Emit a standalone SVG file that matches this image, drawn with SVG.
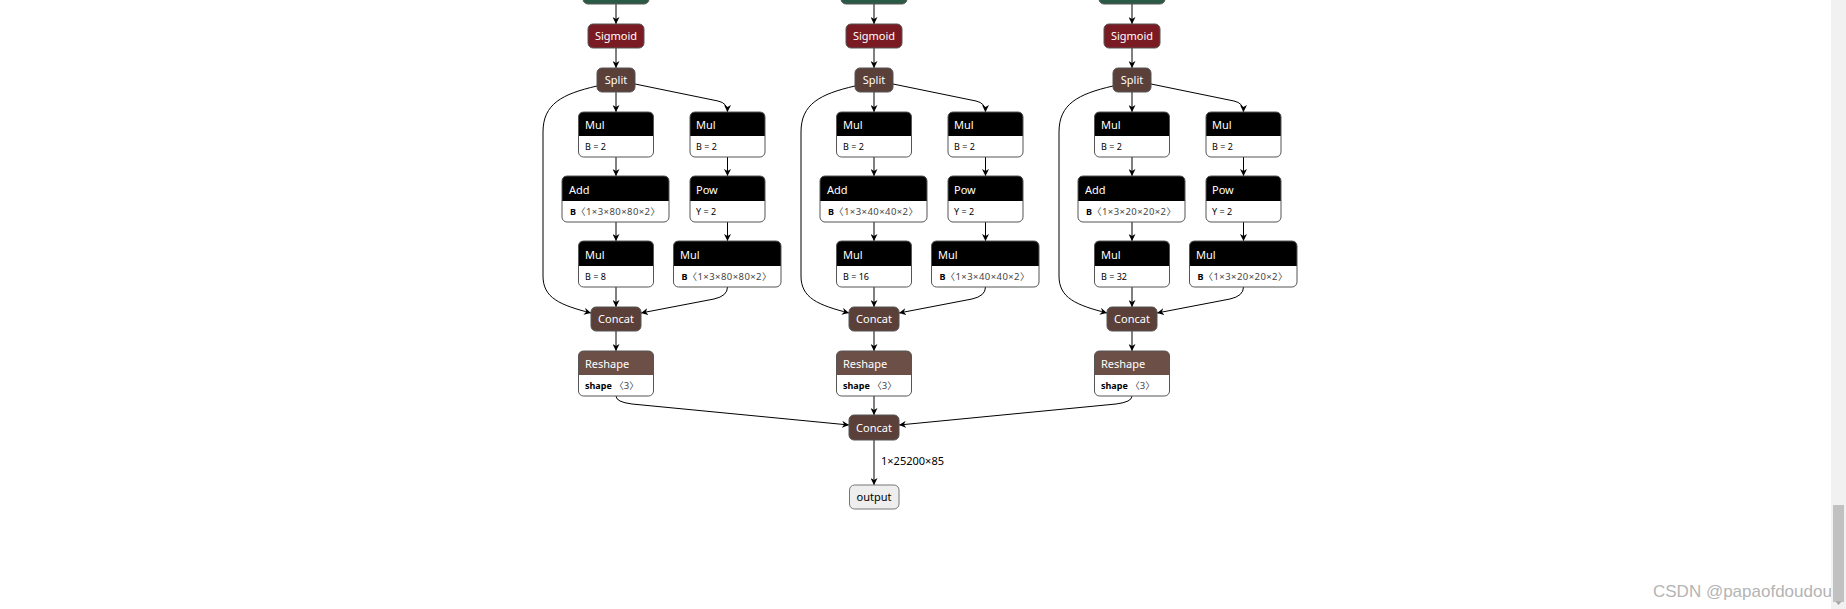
<svg xmlns="http://www.w3.org/2000/svg" width="1846" height="609" viewBox="0 0 1846 609">
<style>
.t{font-family:"Noto Sans","Noto Sans CJK SC",sans-serif}
.title{font-size:11px;fill:#fff}
.ctitle{font-size:11px;fill:#fff;text-anchor:middle}
.attr{font-size:9px;fill:#000}
.val{fill:#444;font-size:9.5px}
.b{font-weight:bold}
.box{fill:#fff}
.ol{fill:none;stroke:#555;stroke-width:1}
.hdr{fill:#000}
.sig{fill:#7a1a22;stroke:#555}
.ten{fill:#5b4039;stroke:#555}
.shp{fill:#6c4f47}
.tr{fill:#2a5a45;stroke:#555}
.edge{fill:none;stroke:#000;stroke-width:1;marker-end:url(#arr)}
</style>
<defs>
<marker id="arr" viewBox="0 0 10 10" refX="10" refY="5" markerWidth="7" markerHeight="7" markerUnits="userSpaceOnUse" orient="auto"><path d="M0,0 L10,5 L0,10 L3,5 z" fill="#000"/></marker>
</defs>
<rect width="1846" height="609" fill="#fff"/>

<g id="edges">
 <g id="edges_c1">
  <path class="edge" d="M616,4 V24"/>
  <path class="edge" d="M616,48 V68"/>
  <path class="edge" d="M616,92 V112"/>
  <path class="edge" d="M635,84 L718,101 Q727.5,103 727.5,112"/>
  <path class="edge" d="M597,86 C562,94 543,104 543,132 V276 C543,298 560,305 591,313"/>
  <path class="edge" d="M616,157 V176"/>
  <path class="edge" d="M727.5,157 V176"/>
  <path class="edge" d="M616,222 V241"/>
  <path class="edge" d="M727.5,222 V241"/>
  <path class="edge" d="M616,287 V307"/>
  <path class="edge" d="M727.5,287 Q727.5,296 714,299 L641,313"/>
  <path class="edge" d="M616,331 V351"/>
 </g>
 <g id="edges_c2" transform="translate(258,0)">
  <path class="edge" d="M616,4 V24"/>
  <path class="edge" d="M616,48 V68"/>
  <path class="edge" d="M616,92 V112"/>
  <path class="edge" d="M635,84 L718,101 Q727.5,103 727.5,112"/>
  <path class="edge" d="M597,86 C562,94 543,104 543,132 V276 C543,298 560,305 591,313"/>
  <path class="edge" d="M616,157 V176"/>
  <path class="edge" d="M727.5,157 V176"/>
  <path class="edge" d="M616,222 V241"/>
  <path class="edge" d="M727.5,222 V241"/>
  <path class="edge" d="M616,287 V307"/>
  <path class="edge" d="M727.5,287 Q727.5,296 714,299 L641,313"/>
  <path class="edge" d="M616,331 V351"/>
 </g>
 <g id="edges_c3" transform="translate(516,0)">
  <path class="edge" d="M616,4 V24"/>
  <path class="edge" d="M616,48 V68"/>
  <path class="edge" d="M616,92 V112"/>
  <path class="edge" d="M635,84 L718,101 Q727.5,103 727.5,112"/>
  <path class="edge" d="M597,86 C562,94 543,104 543,132 V276 C543,298 560,305 591,313"/>
  <path class="edge" d="M616,157 V176"/>
  <path class="edge" d="M727.5,157 V176"/>
  <path class="edge" d="M616,222 V241"/>
  <path class="edge" d="M727.5,222 V241"/>
  <path class="edge" d="M616,287 V307"/>
  <path class="edge" d="M727.5,287 Q727.5,296 714,299 L641,313"/>
  <path class="edge" d="M616,331 V351"/>
 </g>
 <path class="edge" d="M616,396 Q616,402 632,404 L849,425"/>
 <path class="edge" d="M874,396 V415"/>
 <path class="edge" d="M1132,396 Q1132,402 1116,404 L899,425"/>
 <path class="edge" d="M874,440 V485"/>
 <text class="t" x="881" y="465" font-size="11" fill="#000" textLength="63" lengthAdjust="spacingAndGlyphs">1×25200×85</text>
</g>

<!-- Column 1 -->
<g id="c1">
 <g id="c1_transpose"><rect class="tr" x="583" y="-20" width="66" height="24" rx="5"/></g>
 <g id="c1_sigmoid"><rect class="sig" x="588" y="24" width="56" height="24" rx="5"/><text class="t ctitle" x="616" y="40">Sigmoid</text></g>
 <g id="c1_split"><rect class="ten" x="597" y="68" width="38" height="24" rx="5"/><text class="t ctitle" x="616" y="84">Split</text></g>
 <g id="c1_mul_a"><rect class="box" x="578.5" y="112" width="75" height="45" rx="5"/><path class="hdr" d="M578.5,136 V117 Q578.5,112 583.5,112 H648.5 Q653.5,112 653.5,117 V136 Z"/><rect class="ol" x="578.5" y="112" width="75" height="45" rx="5"/><text class="t title" x="585" y="129">Mul</text><text class="t attr" x="585" y="150">B = 2</text></g>
 <g id="c1_mul_b"><rect class="box" x="690" y="112" width="75" height="45" rx="5"/><path class="hdr" d="M690,136 V117 Q690,112 695,112 H760 Q765,112 765,117 V136 Z"/><rect class="ol" x="690" y="112" width="75" height="45" rx="5"/><text class="t title" x="696" y="129">Mul</text><text class="t attr" x="696" y="150">B = 2</text></g>
 <g id="c1_add"><rect class="box" x="562" y="176" width="107" height="46" rx="5"/><path class="hdr" d="M562,201 V181 Q562,176 567,176 H664 Q669,176 669,181 V201 Z"/><rect class="ol" x="562" y="176" width="107" height="46" rx="5"/><text class="t title" x="569" y="194">Add</text><text class="t attr" x="570" y="215"><tspan class="b">B</tspan></text><text class="t attr val" x="576" y="215" textLength="84" lengthAdjust="spacing">〈1×3×80×80×2〉</text></g>
 <g id="c1_pow"><rect class="box" x="690" y="176" width="75" height="46" rx="5"/><path class="hdr" d="M690,201 V181 Q690,176 695,176 H760 Q765,176 765,181 V201 Z"/><rect class="ol" x="690" y="176" width="75" height="46" rx="5"/><text class="t title" x="696" y="194">Pow</text><text class="t attr" x="696" y="215">Y = 2</text></g>
 <g id="c1_mul_c"><rect class="box" x="578.5" y="241" width="75" height="46" rx="5"/><path class="hdr" d="M578.5,266 V246 Q578.5,241 583.5,241 H648.5 Q653.5,241 653.5,246 V266 Z"/><rect class="ol" x="578.5" y="241" width="75" height="46" rx="5"/><text class="t title" x="585" y="259">Mul</text><text class="t attr" x="585" y="280">B = 8</text></g>
 <g id="c1_mul_d"><rect class="box" x="673.5" y="241" width="107.5" height="46" rx="5"/><path class="hdr" d="M673.5,266 V246 Q673.5,241 678.5,241 H776 Q781,241 781,246 V266 Z"/><rect class="ol" x="673.5" y="241" width="107.5" height="46" rx="5"/><text class="t title" x="680" y="259">Mul</text><text class="t attr" x="681.5" y="280"><tspan class="b">B</tspan></text><text class="t attr val" x="687.5" y="280" textLength="84" lengthAdjust="spacing">〈1×3×80×80×2〉</text></g>
 <g id="c1_concat"><rect class="ten" x="591" y="307" width="50" height="24" rx="5"/><text class="t ctitle" x="616" y="323">Concat</text></g>
 <g id="c1_reshape"><rect class="box" x="578.5" y="351" width="75" height="45" rx="5"/><path class="shp" d="M578.5,375 V356 Q578.5,351 583.5,351 H648.5 Q653.5,351 653.5,356 V375 Z"/><rect class="ol" x="578.5" y="351" width="75" height="45" rx="5"/><text class="t title" x="585" y="368">Reshape</text><text class="t attr" x="585" y="389"><tspan class="b">shape</tspan><tspan class="val"> 〈3〉</tspan></text></g>
</g>

<!-- Column 2 -->
<g id="c2" transform="translate(258,0)">
 <g id="c2_transpose"><rect class="tr" x="583" y="-20" width="66" height="24" rx="5"/></g>
 <g id="c2_sigmoid"><rect class="sig" x="588" y="24" width="56" height="24" rx="5"/><text class="t ctitle" x="616" y="40">Sigmoid</text></g>
 <g id="c2_split"><rect class="ten" x="597" y="68" width="38" height="24" rx="5"/><text class="t ctitle" x="616" y="84">Split</text></g>
 <g id="c2_mul_a"><rect class="box" x="578.5" y="112" width="75" height="45" rx="5"/><path class="hdr" d="M578.5,136 V117 Q578.5,112 583.5,112 H648.5 Q653.5,112 653.5,117 V136 Z"/><rect class="ol" x="578.5" y="112" width="75" height="45" rx="5"/><text class="t title" x="585" y="129">Mul</text><text class="t attr" x="585" y="150">B = 2</text></g>
 <g id="c2_mul_b"><rect class="box" x="690" y="112" width="75" height="45" rx="5"/><path class="hdr" d="M690,136 V117 Q690,112 695,112 H760 Q765,112 765,117 V136 Z"/><rect class="ol" x="690" y="112" width="75" height="45" rx="5"/><text class="t title" x="696" y="129">Mul</text><text class="t attr" x="696" y="150">B = 2</text></g>
 <g id="c2_add"><rect class="box" x="562" y="176" width="107" height="46" rx="5"/><path class="hdr" d="M562,201 V181 Q562,176 567,176 H664 Q669,176 669,181 V201 Z"/><rect class="ol" x="562" y="176" width="107" height="46" rx="5"/><text class="t title" x="569" y="194">Add</text><text class="t attr" x="570" y="215"><tspan class="b">B</tspan></text><text class="t attr val" x="576" y="215" textLength="84" lengthAdjust="spacing">〈1×3×40×40×2〉</text></g>
 <g id="c2_pow"><rect class="box" x="690" y="176" width="75" height="46" rx="5"/><path class="hdr" d="M690,201 V181 Q690,176 695,176 H760 Q765,176 765,181 V201 Z"/><rect class="ol" x="690" y="176" width="75" height="46" rx="5"/><text class="t title" x="696" y="194">Pow</text><text class="t attr" x="696" y="215">Y = 2</text></g>
 <g id="c2_mul_c"><rect class="box" x="578.5" y="241" width="75" height="46" rx="5"/><path class="hdr" d="M578.5,266 V246 Q578.5,241 583.5,241 H648.5 Q653.5,241 653.5,246 V266 Z"/><rect class="ol" x="578.5" y="241" width="75" height="46" rx="5"/><text class="t title" x="585" y="259">Mul</text><text class="t attr" x="585" y="280">B = 16</text></g>
 <g id="c2_mul_d"><rect class="box" x="673.5" y="241" width="107.5" height="46" rx="5"/><path class="hdr" d="M673.5,266 V246 Q673.5,241 678.5,241 H776 Q781,241 781,246 V266 Z"/><rect class="ol" x="673.5" y="241" width="107.5" height="46" rx="5"/><text class="t title" x="680" y="259">Mul</text><text class="t attr" x="681.5" y="280"><tspan class="b">B</tspan></text><text class="t attr val" x="687.5" y="280" textLength="84" lengthAdjust="spacing">〈1×3×40×40×2〉</text></g>
 <g id="c2_concat"><rect class="ten" x="591" y="307" width="50" height="24" rx="5"/><text class="t ctitle" x="616" y="323">Concat</text></g>
 <g id="c2_reshape"><rect class="box" x="578.5" y="351" width="75" height="45" rx="5"/><path class="shp" d="M578.5,375 V356 Q578.5,351 583.5,351 H648.5 Q653.5,351 653.5,356 V375 Z"/><rect class="ol" x="578.5" y="351" width="75" height="45" rx="5"/><text class="t title" x="585" y="368">Reshape</text><text class="t attr" x="585" y="389"><tspan class="b">shape</tspan><tspan class="val"> 〈3〉</tspan></text></g>
</g>

<!-- Column 3 -->
<g id="c3" transform="translate(516,0)">
 <g id="c3_transpose"><rect class="tr" x="583" y="-20" width="66" height="24" rx="5"/></g>
 <g id="c3_sigmoid"><rect class="sig" x="588" y="24" width="56" height="24" rx="5"/><text class="t ctitle" x="616" y="40">Sigmoid</text></g>
 <g id="c3_split"><rect class="ten" x="597" y="68" width="38" height="24" rx="5"/><text class="t ctitle" x="616" y="84">Split</text></g>
 <g id="c3_mul_a"><rect class="box" x="578.5" y="112" width="75" height="45" rx="5"/><path class="hdr" d="M578.5,136 V117 Q578.5,112 583.5,112 H648.5 Q653.5,112 653.5,117 V136 Z"/><rect class="ol" x="578.5" y="112" width="75" height="45" rx="5"/><text class="t title" x="585" y="129">Mul</text><text class="t attr" x="585" y="150">B = 2</text></g>
 <g id="c3_mul_b"><rect class="box" x="690" y="112" width="75" height="45" rx="5"/><path class="hdr" d="M690,136 V117 Q690,112 695,112 H760 Q765,112 765,117 V136 Z"/><rect class="ol" x="690" y="112" width="75" height="45" rx="5"/><text class="t title" x="696" y="129">Mul</text><text class="t attr" x="696" y="150">B = 2</text></g>
 <g id="c3_add"><rect class="box" x="562" y="176" width="107" height="46" rx="5"/><path class="hdr" d="M562,201 V181 Q562,176 567,176 H664 Q669,176 669,181 V201 Z"/><rect class="ol" x="562" y="176" width="107" height="46" rx="5"/><text class="t title" x="569" y="194">Add</text><text class="t attr" x="570" y="215"><tspan class="b">B</tspan></text><text class="t attr val" x="576" y="215" textLength="84" lengthAdjust="spacing">〈1×3×20×20×2〉</text></g>
 <g id="c3_pow"><rect class="box" x="690" y="176" width="75" height="46" rx="5"/><path class="hdr" d="M690,201 V181 Q690,176 695,176 H760 Q765,176 765,181 V201 Z"/><rect class="ol" x="690" y="176" width="75" height="46" rx="5"/><text class="t title" x="696" y="194">Pow</text><text class="t attr" x="696" y="215">Y = 2</text></g>
 <g id="c3_mul_c"><rect class="box" x="578.5" y="241" width="75" height="46" rx="5"/><path class="hdr" d="M578.5,266 V246 Q578.5,241 583.5,241 H648.5 Q653.5,241 653.5,246 V266 Z"/><rect class="ol" x="578.5" y="241" width="75" height="46" rx="5"/><text class="t title" x="585" y="259">Mul</text><text class="t attr" x="585" y="280">B = 32</text></g>
 <g id="c3_mul_d"><rect class="box" x="673.5" y="241" width="107.5" height="46" rx="5"/><path class="hdr" d="M673.5,266 V246 Q673.5,241 678.5,241 H776 Q781,241 781,246 V266 Z"/><rect class="ol" x="673.5" y="241" width="107.5" height="46" rx="5"/><text class="t title" x="680" y="259">Mul</text><text class="t attr" x="681.5" y="280"><tspan class="b">B</tspan></text><text class="t attr val" x="687.5" y="280" textLength="84" lengthAdjust="spacing">〈1×3×20×20×2〉</text></g>
 <g id="c3_concat"><rect class="ten" x="591" y="307" width="50" height="24" rx="5"/><text class="t ctitle" x="616" y="323">Concat</text></g>
 <g id="c3_reshape"><rect class="box" x="578.5" y="351" width="75" height="45" rx="5"/><path class="shp" d="M578.5,375 V356 Q578.5,351 583.5,351 H648.5 Q653.5,351 653.5,356 V375 Z"/><rect class="ol" x="578.5" y="351" width="75" height="45" rx="5"/><text class="t title" x="585" y="368">Reshape</text><text class="t attr" x="585" y="389"><tspan class="b">shape</tspan><tspan class="val"> 〈3〉</tspan></text></g>
</g>

<g id="final_concat"><rect class="ten" x="849" y="415" width="50" height="25" rx="5"/><text class="t ctitle" x="874" y="431.5">Concat</text></g>
<g id="output"><rect x="849.5" y="485" width="49.5" height="24" rx="5" fill="#eee" stroke="#777"/><text class="t" x="874" y="501" font-size="11" fill="#000" text-anchor="middle">output</text></g>

<text x="1653" y="597" font-family="Liberation Sans, Arial, sans-serif" font-size="17" fill="#b4b4b4">CSDN @papaofdoudou</text>
<g id="scrollbar">
 <rect x="1831" y="0" width="15" height="609" fill="#f1f1f1"/>
 <rect x="1833" y="505" width="11" height="97" fill="#c1c1c1"/>
 <path d="M1835.5,601.5 L1841.5,601.5 L1838.5,605 Z" fill="#a3a3a3"/>
</g>
</svg>
